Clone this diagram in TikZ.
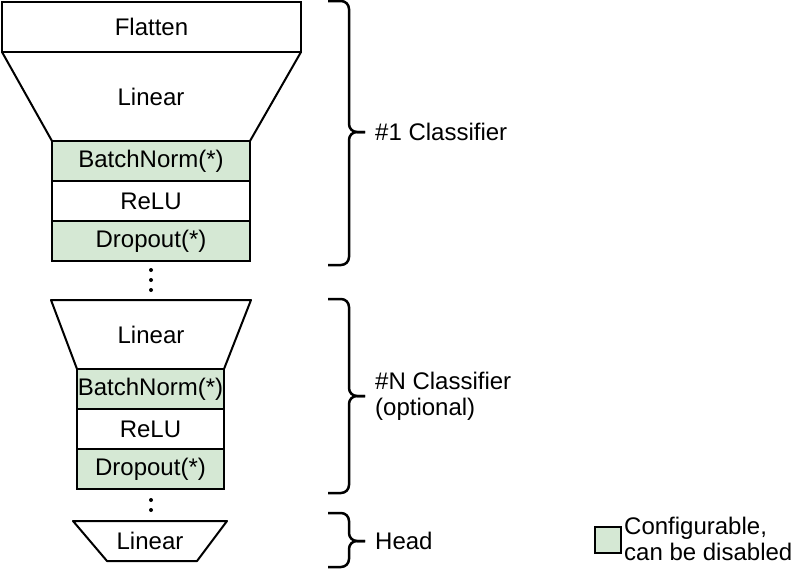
\documentclass[tikz,border=0pt]{standalone}
\usepackage{fontspec}
\setmainfont{Liberation Sans}
\definecolor{cfggreen}{HTML}{D5E8D4}
\tikzset{
 layer/.style={draw,line width=2pt,outer sep=0pt,inner sep=0pt,minimum height=40pt,font=\fontsize{24}{26}\selectfont},
 cfg/.style={layer,fill=cfggreen},
 txt/.style={inner sep=0pt,font=\fontsize{24}{26}\selectfont},
 lbl/.style={txt,anchor=west,align=left},
 edge/.style={line width=2pt,line join=round},
 brc/.style={line width=2.5pt,rounded corners=8pt}
}
\newcommand{\clsbrace}[3]{%
 \draw[brc] (328,#1) -| (349,#3) -- (365,#3);
 \draw[brc] (365,#3) -- (349,#3) |- (328,#2);}

\begin{document}
\begin{tikzpicture}[x=1pt,y=-1pt]
 \useasboundingbox (0,0) rectangle (804,570);
 \node[layer,minimum width=299pt,minimum height=50pt] (flat) at (151.5,27) {Flatten};
 \node[cfg,minimum width=198pt] (bn1) at (151,161) {BatchNorm(*)};
 \node[layer,minimum width=198pt,anchor=north] (relu1) at (bn1.south) {ReLU};
 \node[cfg,minimum width=198pt,anchor=north] (drop1) at (relu1.south) {Dropout(*)};
 \draw[edge] (flat.south west) -- (bn1.north west) (flat.south east) -- (bn1.north east);
 \node[txt] (lin1) at (151,97) {Linear};
 \foreach \y in {270,280,290} \fill (151,\y) circle (2pt);

 \coordinate (top2w) at (51,300);
 \coordinate (top2e) at (251,300);
 \node[cfg,minimum width=147pt] (bn2) at (150.5,389) {BatchNorm(*)};
 \node[layer,minimum width=147pt,anchor=north] (relu2) at (bn2.south) {ReLU};
 \node[cfg,minimum width=147pt,anchor=north] (drop2) at (relu2.south) {Dropout(*)};
 \draw[edge] (bn2.north west) -- (top2w) -- (top2e) -- (bn2.north east);
 \node[txt] (lin2) at (151,335) {Linear};
 \foreach \y in {500,510} \fill (151,\y) circle (2pt);

 \coordinate (hdnw) at (73,521);
 \coordinate (hdne) at (227,521);
 \coordinate (hdse) at (197,561);
 \coordinate (hdsw) at (107,561);
 \draw[edge] (hdnw) -- (hdne) -- (hdse) -- (hdsw) -- cycle;
 \node[txt] (linhd) at (150,541) {Linear};

 \clsbrace{1}{265}{132}
 \clsbrace{299}{493}{396}
 \clsbrace{513}{567}{541}
 \node[lbl] (cls1) at (375,132) {\#1 Classifier};
 \node[lbl] (clsN) at (375,396) {\#N Classifier\\(optional)};
 \node[lbl] (head) at (375,541) {Head};

 \node[cfg,minimum width=26pt,minimum height=26pt] (key) at (608,539.5) {};
 \node[lbl] (keytxt) at (624,539) {Configurable,\\can be disabled};
\end{tikzpicture}
\end{document}
